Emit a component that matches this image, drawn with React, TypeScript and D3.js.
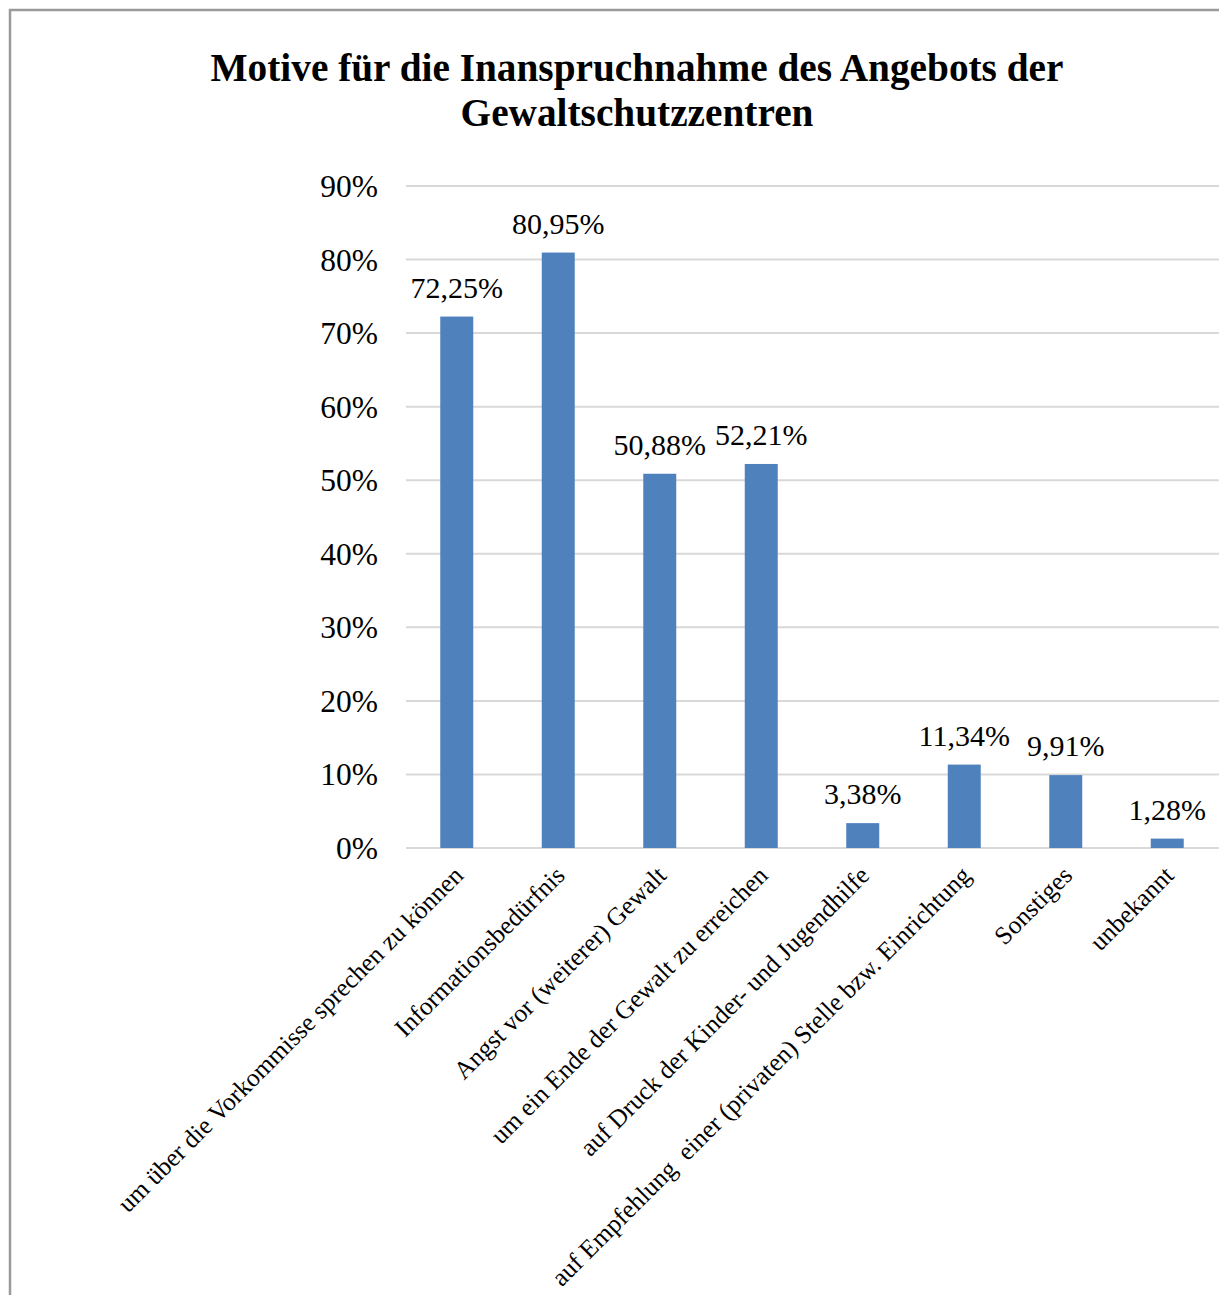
import React from 'react';
import * as d3 from 'd3';

const categories = [
  'um über die Vorkommisse sprechen zu können',
  'Informationsbedürfnis',
  'Angst vor (weiterer) Gewalt',
  'um ein Ende der Gewalt zu erreichen',
  'auf Druck der Kinder- und Jugendhilfe',
  'auf Empfehlung  einer (privaten) Stelle bzw. Einrichtung',
  'Sonstiges',
  'unbekannt',
];
const values = [72.25, 80.95, 50.88, 52.21, 3.38, 11.34, 9.91, 1.28];
const yTicks = [0, 10, 20, 30, 40, 50, 60, 70, 80, 90];
const titleLines = ['Motive für die Inanspruchnahme des Angebots der', 'Gewaltschutzzentren'];

const W = 1219;
const H = 1295;
const FONT = '"Liberation Serif", "Times New Roman", serif';

export default function App() {
  const x = d3.scaleBand<string>().domain(categories).range([406, 1218]).paddingInner(0.675).paddingOuter(0.3375);
  const y = d3.scaleLinear().domain([0, 90]).range([848, 186]);
  const fmt = (v: number) => v.toFixed(2).replace('.', ',') + '%';

  return (
    <div style={{ position: 'absolute', left: 0, top: 0 }}>
      <svg width={W} height={H} style={{ display: 'block', background: '#fff' }}>
        <rect x={10} y={10} width={W + 20} height={H + 20} fill="#fff" stroke="#9a9a9a" strokeWidth={2.5} />
        {titleLines.map((t, i) => (
          <text key={i} x={637} y={81 + i * 45} textAnchor="middle" fontFamily={FONT} fontWeight="bold" fontSize={39.3}>
            {t}
          </text>
        ))}
        {yTicks.map((t) => (
          <g key={t}>
            <line x1={406} x2={1219} y1={y(t)} y2={y(t)} stroke="#d9d9d9" strokeWidth={2} />
            <text x={378} y={y(t) + 11} textAnchor="end" fontFamily={FONT} fontSize={31.5}>
              {t}%
            </text>
          </g>
        ))}
        {categories.map((c, i) => (
          <g key={c}>
            <rect x={x(c)} y={y(values[i])} width={x.bandwidth()} height={y(0) - y(values[i])} fill="#4f81bd" />
            <text x={x(c)! + x.bandwidth() / 2} y={y(values[i]) - 19} textAnchor="middle" fontFamily={FONT} fontSize={30}>
              {fmt(values[i])}
            </text>
            <text
              transform={`translate(${x(c)! + x.bandwidth() / 2 + 8},${877}) rotate(-45)`}
              textAnchor="end"
              fontFamily={FONT}
              fontSize={25.5}
              style={{ whiteSpace: 'pre' }}
            >
              {c}
            </text>
          </g>
        ))}
      </svg>
    </div>
  );
}
